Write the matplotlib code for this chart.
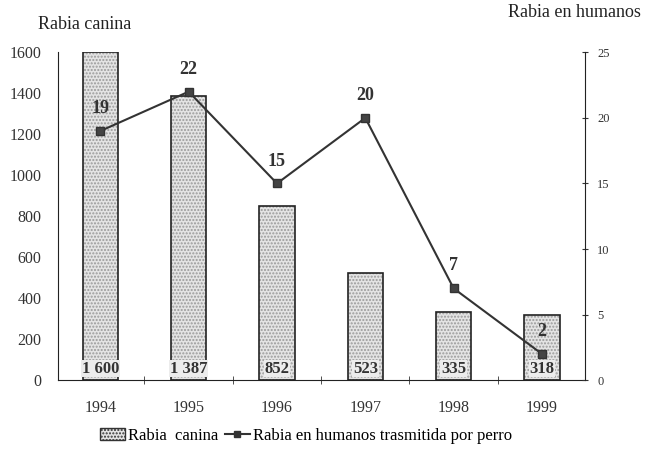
import matplotlib
matplotlib.use("Agg")
import matplotlib.pyplot as plt
from matplotlib.patches import Patch
from matplotlib.lines import Line2D

years = ["1994", "1995", "1996", "1997", "1998", "1999"]
canine = [1600, 1387, 852, 523, 335, 318]
canine_labels = ["1 600", "1 387", "852", "523", "335", "318"]
human = [19, 22, 15, 20, 7, 2]
left_ticks = [0, 200, 400, 600, 800, 1000, 1200, 1400, 1600]
right_ticks = [0, 5, 10, 15, 20, 25]

plt.rcParams['font.family'] = ['Liberation Serif', 'DejaVu Serif']

fig = plt.figure(figsize=(6.51, 4.51), dpi=100)
ax = fig.add_axes([0.089, 0.157, 0.81, 0.727])
x = list(range(len(years)))

ax.bar(x, canine, width=0.4, color='#e4e4e4', edgecolor='#9a9a9a', linewidth=0,
       hatch='.....', zorder=2)
ax.bar(x, canine, width=0.4, fill=False, edgecolor='#222222', linewidth=1.2, zorder=3)
for xi, lab in zip(x, canine_labels):
    ax.text(xi, 18, lab, ha='center', va='bottom', fontsize=12, fontweight='bold',
            color='#333333', zorder=5,
            bbox=dict(facecolor='#ececec', edgecolor='none', pad=0.5))

ax.set_xlim(-0.48, 5.49)
ax.set_ylim(0, 1600)
ax.set_yticks(left_ticks)
ax.set_yticklabels([str(v) for v in left_ticks], fontsize=11.5, color='#333333')
ax.tick_params(axis='y', length=0, pad=12)
ax.set_xticks(x)
ax.set_xticklabels(years, fontsize=11.5, color='#333333')
ax.tick_params(axis='x', length=0, pad=14)
ax.set_xticks([i + 0.5 for i in range(5)], minor=True)
ax.tick_params(axis='x', which='minor', length=6, direction='inout', color='#333333')
for s in ['top', 'right']:
    ax.spines[s].set_visible(False)
ax.spines['left'].set_color('#222222')
ax.spines['bottom'].set_color('#222222')

ax2 = ax.twinx()
ax2.plot(x, human, color='#333333', linewidth=1.5, marker='s', markersize=6,
         markerfacecolor='#444444', markeredgecolor='#333333', zorder=6)
ax2.set_ylim(0, 25)
ax2.set_yticks(right_ticks)
ax2.set_yticklabels([str(v) for v in right_ticks], fontsize=9, color='#333333')
ax2.tick_params(axis='y', length=5, direction='inout', pad=6, color='#333333')
for s in ['top', 'left', 'bottom']:
    ax2.spines[s].set_visible(False)
ax2.spines['right'].set_color('#222222')
for xi, v in zip(x, human):
    ax2.annotate(str(v), (xi, v), xytext=(0, 10), textcoords='offset points',
                 ha='center', va='bottom', fontsize=13, fontweight='bold',
                 color='#333333', zorder=7)

fig.text(0.058, 0.945, "Rabia canina", fontsize=13, color='#222222', ha='left', va='center')
fig.text(0.985, 0.972, "Rabia en humanos", fontsize=13, color='#222222', ha='right', va='center')

handles = [Patch(facecolor='#e4e4e4', edgecolor='#333333', hatch='.....'),
           Line2D([0], [0], color='#333333', marker='s', markersize=5, linewidth=1.5)]
fig.legend(handles, ["Rabia  canina", "Rabia en humanos trasmitida por perro"],
           loc='center', bbox_to_anchor=(0.47, 0.033), ncol=2, frameon=False,
           fontsize=12, handlelength=1.5, handletextpad=0.2, columnspacing=0.4)

fig.savefig("out.png", dpi=100)
